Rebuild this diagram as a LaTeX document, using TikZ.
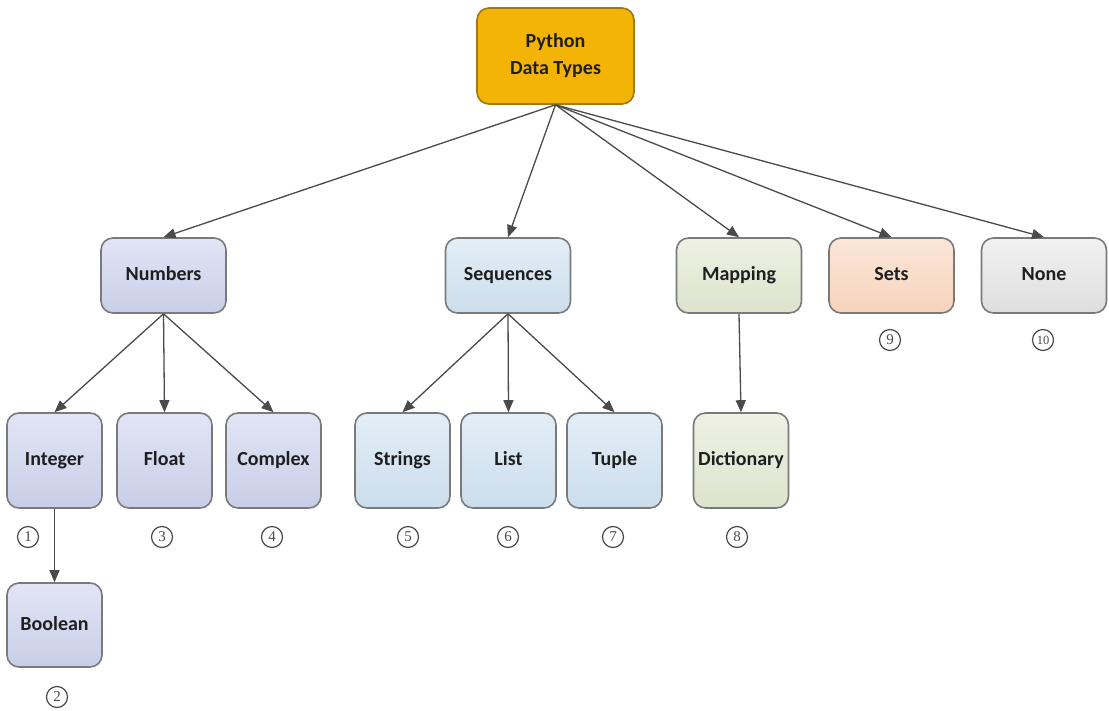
\documentclass[tikz,border=0pt]{standalone}
\usepackage{fontspec}
\usepackage{tikz}
\usetikzlibrary{shapes,arrows,arrows.meta}
\newfontfamily\boxfont{Carlito}
\newfontfamily\numfont{Liberation Serif}

\definecolor{rootfill}{HTML}{F3B406}
\definecolor{rootline}{HTML}{A07A10}
\definecolor{boxline}{HTML}{7A7A7A}
\definecolor{arrowgray}{HTML}{4A4A4A}
\definecolor{numtop}{HTML}{E2E5F6}
\definecolor{numbot}{HTML}{C9CEE8}
\definecolor{seqtop}{HTML}{E3EEF7}
\definecolor{seqbot}{HTML}{CBDDEC}
\definecolor{maptop}{HTML}{EEF1E4}
\definecolor{mapbot}{HTML}{DDE3CC}
\definecolor{settop}{HTML}{FBE6D8}
\definecolor{setbot}{HTML}{F6D3BC}
\definecolor{nonetop}{HTML}{F1F1F1}
\definecolor{nonebot}{HTML}{DEDEDE}

\tikzset{
  typebox/.style={draw=boxline, line width=1.6pt, rounded corners=12pt,
    font=\boxfont\bfseries\fontsize{20}{26}\selectfont, text=black!88,
    align=center, inner sep=0pt},
  topbox/.style={typebox, minimum width=125pt, minimum height=75pt,
    text height=13pt, text depth=3pt},
  leafbox/.style={typebox, minimum width=95pt, minimum height=95pt,
    text height=13pt, text depth=3pt},
  numtype/.style={top color=numtop, bottom color=numbot},
  seqtype/.style={top color=seqtop, bottom color=seqbot},
  maptype/.style={top color=maptop, bottom color=mapbot},
  settype/.style={top color=settop, bottom color=setbot},
  nonetype/.style={top color=nonetop, bottom color=nonebot},
  circnum/.style={circle, draw=arrowgray, line width=1.2pt, minimum size=21pt,
    inner sep=0pt, font=\numfont\fontsize{15}{15}\selectfont, text=arrowgray},
  link/.style={draw=arrowgray, line width=1.3pt,
    -{Triangle[length=12pt, width=10pt]}}
}

\begin{document}
\begin{tikzpicture}[x=1pt, y=-1pt]
\useasboundingbox (0,0) rectangle (1109,711);

% root
\node[typebox, fill=rootfill, draw=rootline, minimum width=157pt,
  minimum height=96pt] (py) at (555.5,56) {Python\\[1pt]Data Types};

% second row
\node[topbox, numtype] (num) at (163.5,275.5) {Numbers};
\node[topbox, seqtype] (seq) at (508,275.5) {Sequences};
\node[topbox, maptype] (map) at (739,275.5) {Mapping};
\node[topbox, settype] (set) at (891.5,275.5) {Sets};
\node[topbox, nonetype] (none) at (1044,275.5) {None};

% third row
\node[leafbox, numtype] (int) at (54.5,460.5) {Integer};
\node[leafbox, numtype] (flt) at (164.5,460.5) {Float};
\node[leafbox, numtype] (cpx) at (273.5,460.5) {Complex};
\node[leafbox, seqtype] (str) at (402.5,460.5) {Strings};
\node[leafbox, seqtype] (lst) at (508.5,460.5) {List};
\node[leafbox, seqtype] (tpl) at (614.5,460.5) {Tuple};
\node[leafbox, maptype] (dct) at (741,460.5) {Dictionary};
\node[leafbox, numtype, minimum height=84pt] (bool) at (54.5,625) {Boolean};

% markers
\node[circnum] (n1) at (28,537) {1};
\node[circnum] (n2) at (57,697) {2};
\node[circnum] (n3) at (162,537) {3};
\node[circnum] (n4) at (272,537) {4};
\node[circnum] (n5) at (408,537) {5};
\node[circnum] (n6) at (508,537) {6};
\node[circnum] (n7) at (613,537) {7};
\node[circnum] (n8) at (737,537) {8};
\node[circnum] (n9) at (890,340) {9};
\node[circnum, font=\numfont\fontsize{12.5}{12.5}\selectfont] (n10) at (1043,340) {10};

% links
\foreach \t in {num,seq,map,set,none}
  \draw[link] (py.south) -- (\t.north);
\foreach \t in {int,flt,cpx}
  \draw[link] (num.south) -- (\t.north);
\foreach \t in {str,lst,tpl}
  \draw[link] (seq.south) -- (\t.north);
\draw[link] (map.south) -- (dct.north);
\draw[link] (int.south) -- (bool.north);
\end{tikzpicture}
\end{document}
